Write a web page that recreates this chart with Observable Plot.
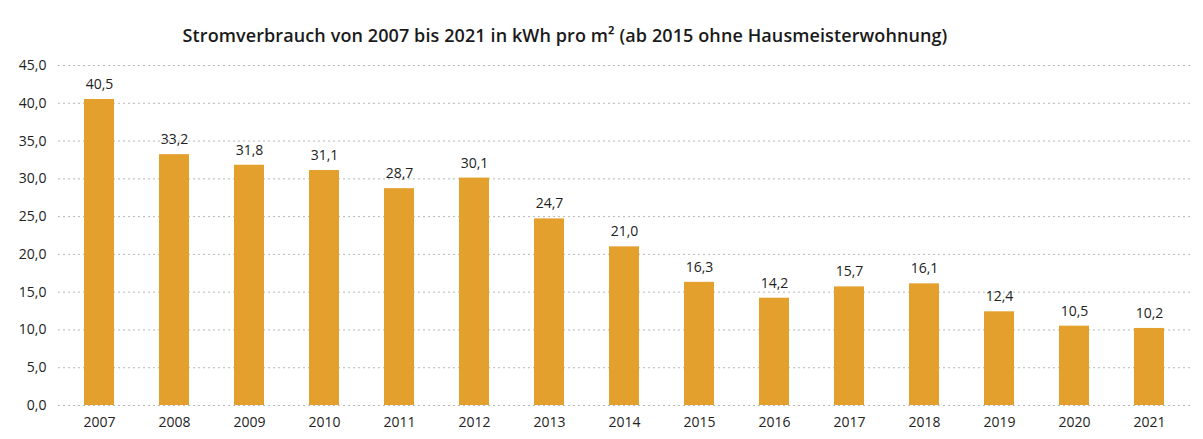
<!DOCTYPE html>
<html>
<head>
<meta charset="utf-8">
<script src="https://cdn.jsdelivr.net/npm/d3@7"></script>
<script src="https://cdn.jsdelivr.net/npm/@observablehq/plot@0.6"></script>
<style>
  body { margin: 0; background: #fff; font-family: "Open Sans", "Liberation Sans", sans-serif; }
  #title { width: 1130px; height: 55px; box-sizing: border-box; padding-top: 23px; text-align: center; font-size: 18px; font-weight: 600; color: #1a1a1a; letter-spacing: 0.1px; }
</style>
</head>
<body>
<div id="title">Stromverbrauch von 2007 bis 2021 in kWh pro m² (ab 2015 ohne Hausmeisterwohnung)</div>
<div id="chart"></div>
<script>
const years = ["2007","2008","2009","2010","2011","2012","2013","2014","2015","2016","2017","2018","2019","2020","2021"];
const values = [40.5,33.2,31.8,31.1,28.7,30.1,24.7,21.0,16.3,14.2,15.7,16.1,12.4,10.5,10.2];
const yTicks = [0,5,10,15,20,25,30,35,40,45];

const data = years.map((y, i) => ({year: y, value: values[i]}));
const fmt = v => v.toFixed(1).replace(".", ",");

const chart = Plot.plot({
  width: 1203,
  height: 384,
  marginTop: 10,
  marginBottom: 34,
  marginLeft: 58,
  marginRight: 13,
  style: {fontFamily: "'Open Sans', 'Liberation Sans', sans-serif", fontSize: "14px", color: "#222"},
  x: {domain: years, paddingInner: 0.6, paddingOuter: 0.3, label: null, tickSize: 0, tickPadding: 12},
  y: {domain: [0, 45], ticks: yTicks, tickFormat: fmt, label: null, tickSize: 0, tickPadding: 12},
  marks: [
    Plot.gridY(yTicks, {stroke: "#999", strokeOpacity: 0.7, strokeDasharray: "2,3"}),
    Plot.barY(data, {x: "year", y: "value", fill: "#E4A02D"}),
    Plot.text(data, {x: "year", y: "value", text: d => fmt(d.value), dy: -15, fontSize: 14, fill: "#222"})
  ]
});
document.getElementById("chart").appendChild(chart);
</script>
</body>
</html>
